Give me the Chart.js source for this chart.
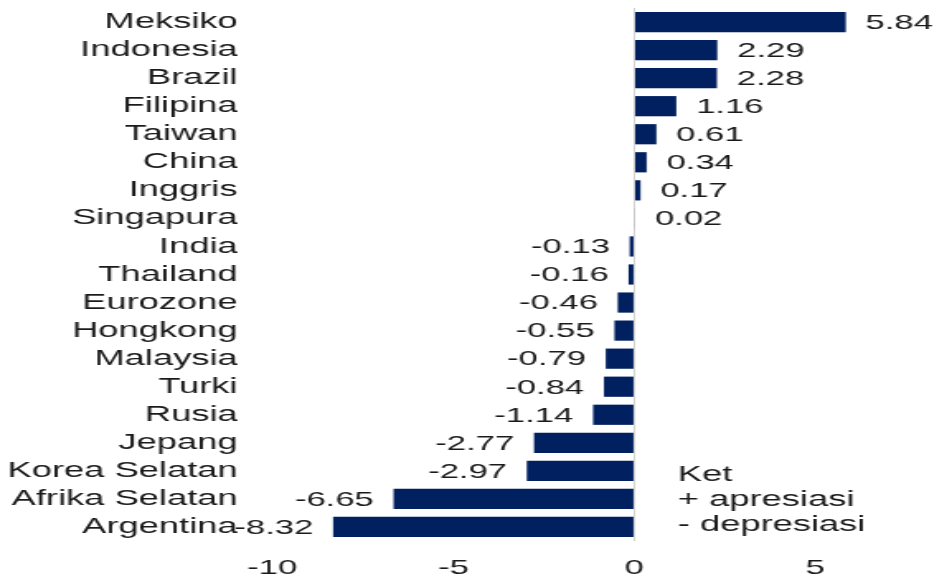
<!DOCTYPE html>
<html>
<head>
<meta charset="utf-8">
<script src="https://cdn.jsdelivr.net/npm/chart.js@4/dist/chart.umd.min.js"></script>
<style>
  html, body { margin: 0; padding: 0; background: #fff; overflow: hidden; }
  #wrap { width: 568px; height: 578px; transform: scaleX(1.65); transform-origin: 0 0; }
</style>
</head>
<body>
<div id="wrap"><canvas id="barChart" width="568" height="578"></canvas></div>
<script>
// currency change vs USD (%)
const countries = [
    'Meksiko', 'Indonesia', 'Brazil', 'Filipina', 'Taiwan', 'China', 'Inggris',
    'Singapura', 'India', 'Thailand', 'Eurozone', 'Hongkong', 'Malaysia', 'Turki',
    'Rusia', 'Jepang', 'Korea Selatan', 'Afrika Selatan', 'Argentina'
];
const changes = [
    5.84, 2.29, 2.28, 1.16, 0.61, 0.34, 0.17,
    0.02, -0.13, -0.16, -0.46, -0.55, -0.79, -0.84,
    -1.14, -2.77, -2.97, -6.65, -8.32
];
const tickLabels = [-10, -5, 0, 5];
const noteLines = ['Ket', '+ apresiasi', '- depresiasi'];

const FONT = "'Liberation Sans', Arial, sans-serif";
const BAR_COLOR = '#002060';
const TEXT_COLOR = '#1a1a1a';

// value labels next to each bar + the "Ket" note
const valueLabels = {
    id: 'valueLabels',
    afterDatasetsDraw(chart) {
        const ctx = chart.ctx;
        const meta = chart.getDatasetMeta(0);
        ctx.save();
        ctx.font = '21px ' + FONT;
        ctx.fillStyle = TEXT_COLOR;
        ctx.textBaseline = 'middle';
        meta.data.forEach((bar, i) => {
            const v = changes[i];
            if (v >= 0) {
                ctx.textAlign = 'left';
                ctx.fillText(v.toFixed(2), bar.x + 12, bar.y + 1);
            } else {
                ctx.textAlign = 'right';
                ctx.fillText(v.toFixed(2), bar.x - 12, bar.y + 1);
            }
        });
        // note
        ctx.font = '22px ' + FONT;
        const x0 = chart.scales.x.getPixelForValue(1.2);
        const lastY = meta.data[meta.data.length - 1].y;
        ctx.textAlign = 'left';
        noteLines.forEach((t, i) => {
            ctx.fillText(t, x0, lastY - 52 + i * 25);
        });
        ctx.restore();
    }
};

const ctx = document.getElementById('barChart').getContext('2d');
const chart = new Chart(ctx, {
    type: 'bar',
    data: {
        labels: countries,
        datasets: [{
            data: changes,
            backgroundColor: BAR_COLOR,
            borderWidth: 0,
            barPercentage: 0.72,
            categoryPercentage: 1
        }]
    },
    options: {
        indexAxis: 'y',
        responsive: false,
        animation: false,
        layout: { padding: { top: 8, right: 8, bottom: 1, left: 0 } },
        plugins: {
            legend: { display: false },
            tooltip: { enabled: false }
        },
        scales: {
            x: {
                min: -10,
                max: 8,
                afterBuildTicks: scale => {
                    scale.ticks = tickLabels.map(v => ({ value: v }));
                },
                afterFit: scale => {
                    scale.height = 36;
                    scale.paddingLeft = 0;
                    scale.paddingRight = 0;
                },
                border: { display: false },
                grid: {
                    drawTicks: false,
                    color: c => (c.tick && c.tick.value === 0) ? '#d4d4d4' : 'rgba(0,0,0,0)',
                    lineWidth: 1
                },
                ticks: {
                    padding: 15,
                    color: TEXT_COLOR,
                    font: { family: FONT, size: 21 },
                    maxRotation: 0
                }
            },
            y: {
                afterFit: scale => {
                    scale.width = 165;
                    scale.paddingTop = 0;
                    scale.paddingBottom = 0;
                },
                border: { display: false },
                grid: { display: false, drawTicks: false },
                ticks: {
                    autoSkip: false,
                    padding: 21,
                    color: TEXT_COLOR,
                    font: { family: FONT, size: 22 }
                }
            }
        }
    },
    plugins: [valueLabels]
});
</script>
</body>
</html>
